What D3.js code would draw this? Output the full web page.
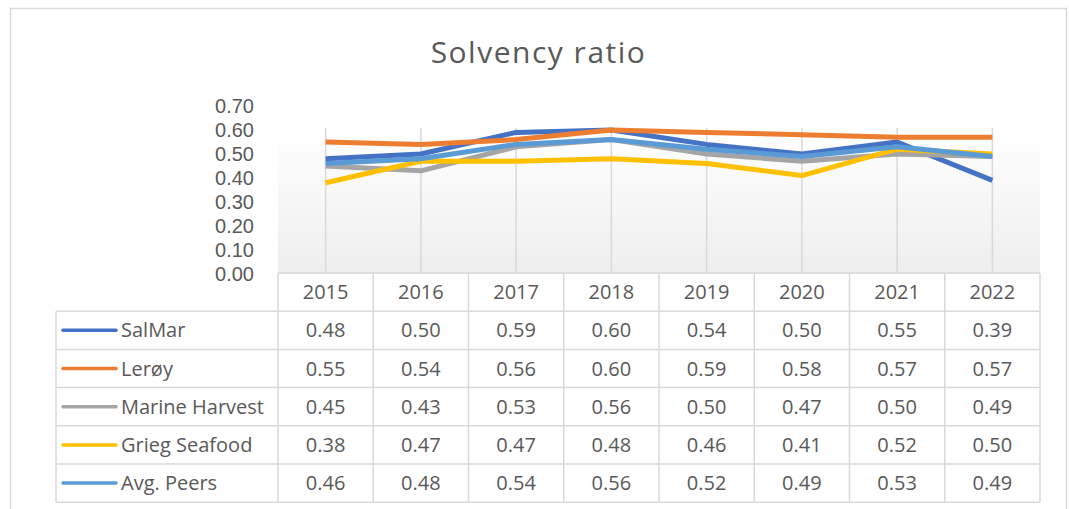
<!DOCTYPE html>
<html><head><meta charset="utf-8">
<script src="https://cdn.jsdelivr.net/npm/d3@7"></script>
<style>body{margin:0;background:#fff}svg{display:block}text{font-family:"Open Sans",sans-serif;fill:#595959}</style>
</head><body><svg id="c" width="1069" height="509"></svg>
<script>
const years = ["2015","2016","2017","2018","2019","2020","2021","2022"];
const seriesNames = ["SalMar","Lerøy","Marine Harvest","Grieg Seafood","Avg. Peers"];
const salmar = [0.48,0.50,0.59,0.60,0.54,0.50,0.55,0.39];
const leroy = [0.55,0.54,0.56,0.60,0.59,0.58,0.57,0.57];
const marineHarvest = [0.45,0.43,0.53,0.56,0.50,0.47,0.50,0.49];
const grieg = [0.38,0.47,0.47,0.48,0.46,0.41,0.52,0.50];
const avgPeers = [0.46,0.48,0.54,0.56,0.52,0.49,0.53,0.49];
const yTicks = [0,0.1,0.2,0.3,0.4,0.5,0.6,0.7];
const colors = ["#4472C4","#ED7D31","#A5A5A5","#FFC000","#5B9BD5"];
const allSeries = [salmar,leroy,marineHarvest,grieg,avgPeers];

const svg = d3.select("#c");
const grid = "#d9d9d9";
// outer frame
svg.append("rect").attr("x",10.5).attr("y",8.5).attr("width",1056).attr("height",520)
  .attr("fill","#fff").attr("stroke",grid).attr("stroke-width",1.5);

const x = d3.scaleBand().domain(years).range([278,1040]);
const y = d3.scaleLinear().domain([0,0.7]).range([274,106]);
const xc = d => x(d)+x.bandwidth()/2;

const defs = svg.append("defs");
const g = defs.append("linearGradient").attr("id","pg").attr("x1",0).attr("y1",0).attr("x2",0).attr("y2",1);
g.append("stop").attr("offset","0%").attr("stop-color","#ffffff");
g.append("stop").attr("offset","100%").attr("stop-color","#eeeeee");
svg.append("rect").attr("x",278).attr("y",128).attr("width",762).attr("height",146).attr("fill","url(#pg)");

// vertical gridlines
svg.append("g").selectAll("line").data(years).join("line")
  .attr("x1",xc).attr("x2",xc).attr("y1",128).attr("y2",274)
  .attr("stroke",grid).attr("stroke-width",1.5);

// y axis labels
svg.append("g").selectAll("text").data(yTicks).join("text")
  .attr("x",254).attr("y",d=>y(d)).attr("dy","0.35em").attr("text-anchor","end")
  .style("font-family","'Liberation Sans',Arial,sans-serif")
  .attr("font-size",20).text(d=>d.toFixed(2));

// lines
const line = d3.line().x((d,i)=>xc(years[i])).y(d=>y(d));
svg.append("g").selectAll("path").data(allSeries).join("path")
  .attr("d",line).attr("fill","none")
  .attr("stroke",(d,i)=>colors[i]).attr("stroke-width",5).attr("stroke-linejoin","round");

// table
const rowTop = 273, rowH = 38.2;
const tb = svg.append("g").attr("stroke",grid).attr("stroke-width",1.5);
tb.append("line").attr("x1",278).attr("x2",1040).attr("y1",rowTop).attr("y2",rowTop);
for(let r=1;r<=6;r++){
  tb.append("line").attr("x1",56).attr("x2",1040).attr("y1",rowTop+r*rowH).attr("y2",rowTop+r*rowH);
}
tb.append("line").attr("x1",56).attr("x2",56).attr("y1",rowTop+rowH).attr("y2",rowTop+6*rowH);
const bounds = years.map(d=>x(d)).concat([1040]);
tb.selectAll("line.v").data(bounds).join("line").attr("class","v")
  .attr("x1",d=>d).attr("x2",d=>d).attr("y1",rowTop).attr("y2",rowTop+6*rowH);

svg.append("g").selectAll("text").data(years).join("text")
  .attr("x",xc).attr("y",rowTop+rowH/2).attr("dy","0.35em").attr("text-anchor","middle")
  .attr("font-size",20).text(d=>d);

seriesNames.forEach((name,i)=>{
  const cy = rowTop+rowH*(i+1.5);
  svg.append("line").attr("x1",63).attr("x2",116).attr("y1",cy).attr("y2",cy)
    .attr("stroke",colors[i]).attr("stroke-width",3.5).attr("stroke-linecap","round");
  svg.append("text").attr("x",121).attr("y",cy).attr("dy","0.35em").attr("font-size",20).text(name);
  svg.append("g").selectAll("text").data(allSeries[i]).join("text")
    .attr("x",(d,j)=>xc(years[j])).attr("y",cy).attr("dy","0.35em").attr("text-anchor","middle")
    .attr("font-size",20).text(d=>d.toFixed(2));
});

// title
svg.append("text").attr("x",538.5).attr("y",63).attr("text-anchor","middle")
  .attr("font-size",30).attr("letter-spacing",1.5).text("Solvency ratio");
</script></body></html>
